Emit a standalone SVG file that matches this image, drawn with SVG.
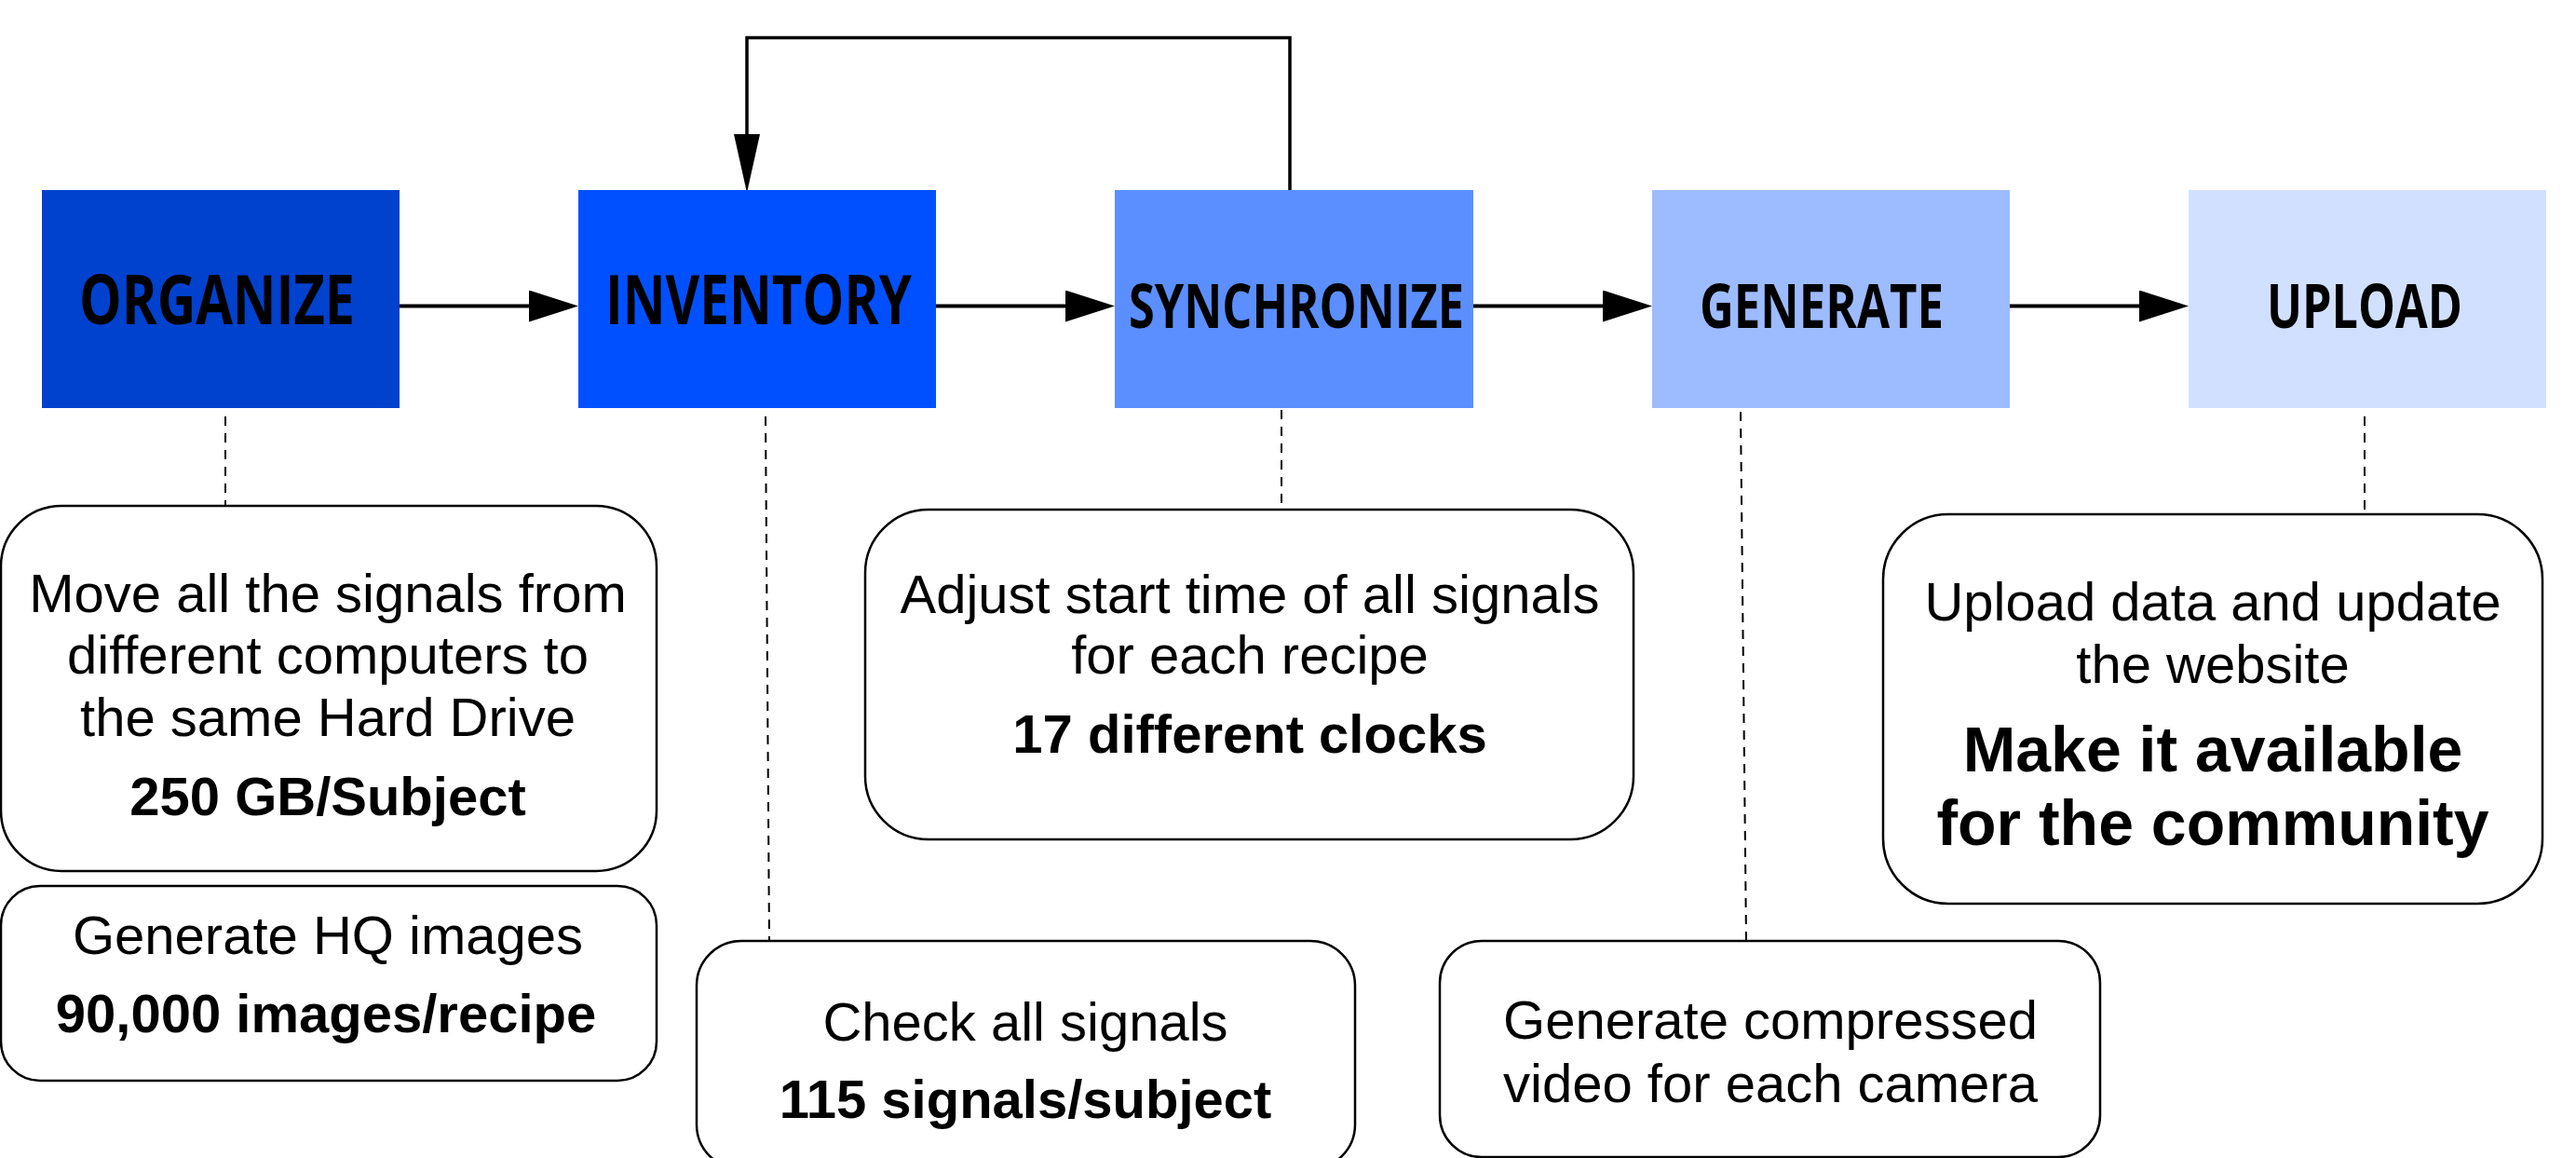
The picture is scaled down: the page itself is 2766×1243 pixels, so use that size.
<svg xmlns="http://www.w3.org/2000/svg" width="2766" height="1243" viewBox="0 0 2766 1243">
<style>
.step-label{font-family:"Open Sans","DejaVu Sans",sans-serif;font-weight:bold;fill:#000;}
.callout{fill:#fff;stroke:#000;stroke-width:2.5;}
.txt{font-family:"Liberation Sans",Arial,sans-serif;font-size:58px;fill:#000;text-anchor:middle;}
.bold{font-weight:bold;}
.flow{stroke:#000;stroke-width:4;fill:none;}
.dash{stroke:#000;stroke-width:2;stroke-dasharray:10 8;fill:none;}
</style>
<defs>
<marker id="ah" markerUnits="userSpaceOnUse" markerWidth="54" markerHeight="34" refX="10" refY="17" orient="auto">
<path d="M0,0 L53,17 L0,34 Z" fill="#000"/>
</marker>
<marker id="ah2" markerUnits="userSpaceOnUse" markerWidth="64" markerHeight="28" refX="10" refY="14" orient="auto">
<path d="M0,0 L63,14 L0,28 Z" fill="#000"/>
</marker>
</defs>
<rect width="2766" height="1243" fill="#fff"/>

<g id="connectors">
<line class="flow" x1="429" y1="328.5" x2="578" y2="328.5" marker-end="url(#ah)"/>
<line class="flow" x1="1005" y1="328.5" x2="1154" y2="328.5" marker-end="url(#ah)"/>
<line class="flow" x1="1582" y1="328.5" x2="1731" y2="328.5" marker-end="url(#ah)"/>
<line class="flow" x1="2158" y1="328.5" x2="2307" y2="328.5" marker-end="url(#ah)"/>
<path class="flow" style="stroke-width:3.5" d="M1385,206 L1385,40.5 L802,40.5 L802,154" marker-end="url(#ah2)"/>
<line class="dash" x1="242" y1="447" x2="242" y2="543"/>
<line class="dash" x1="822" y1="447" x2="826" y2="1010"/>
<line class="dash" x1="1376" y1="440" x2="1376" y2="547"/>
<line class="dash" x1="1869" y1="442" x2="1875" y2="1010"/>
<line class="dash" x1="2539" y1="447" x2="2539" y2="552"/>
</g>

<g id="organize">
<rect x="45" y="204" width="384" height="234" fill="#0041CD"/>
<text class="step-label" x="85" y="348" font-size="74" textLength="296" lengthAdjust="spacingAndGlyphs">ORGANIZE</text>
</g>
<g id="inventory">
<rect x="621" y="204" width="384" height="234" fill="#0050FF"/>
<text class="step-label" x="650" y="348" font-size="74" textLength="329" lengthAdjust="spacingAndGlyphs">INVENTORY</text>
</g>
<g id="synchronize">
<rect x="1197" y="204" width="385" height="234" fill="#5B8FFF"/>
<text class="step-label" x="1212" y="352" font-size="67" textLength="360" lengthAdjust="spacingAndGlyphs">SYNCHRONIZE</text>
</g>
<g id="generate">
<rect x="1774" y="204" width="384" height="234" fill="#9DBBFF"/>
<text class="step-label" x="1825" y="352" font-size="67" textLength="262" lengthAdjust="spacingAndGlyphs">GENERATE</text>
</g>
<g id="upload">
<rect x="2350" y="204" width="384" height="234" fill="#D1E0FF"/>
<text class="step-label" x="2434" y="352" font-size="67" textLength="210" lengthAdjust="spacingAndGlyphs">UPLOAD</text>
</g>

<g id="note-organize">
<rect class="callout" x="1" y="543" width="704" height="392" rx="65" ry="65"/>
<text class="txt" x="352" y="657">Move all the signals from</text>
<text class="txt" x="352" y="723">different computers to</text>
<text class="txt" x="352" y="790">the same Hard Drive</text>
<text class="txt bold" x="352" y="875">250 GB/Subject</text>
</g>
<g id="note-images">
<rect class="callout" x="1" y="951" width="704" height="209" rx="42" ry="42"/>
<text class="txt" x="352" y="1024">Generate HQ images</text>
<text class="txt bold" x="350" y="1108">90,000 images/recipe</text>
</g>
<g id="note-inventory">
<rect class="callout" x="748" y="1010" width="707" height="245" rx="48" ry="48"/>
<text class="txt" x="1101" y="1117">Check all signals</text>
<text class="txt bold" x="1101" y="1200">115 signals/subject</text>
</g>
<g id="note-synchronize">
<rect class="callout" x="929" y="547" width="825" height="354" rx="68" ry="68"/>
<text class="txt" x="1342" y="658">Adjust start time of all signals</text>
<text class="txt" x="1342" y="723">for each recipe</text>
<text class="txt bold" x="1342" y="808">17 different clocks</text>
</g>
<g id="note-generate">
<rect class="callout" x="1546" y="1010" width="709" height="232" rx="45" ry="45"/>
<text class="txt" x="1901" y="1115">Generate compressed</text>
<text class="txt" x="1901" y="1183">video for each camera</text>
</g>
<g id="note-upload">
<rect class="callout" x="2022" y="552" width="708" height="418" rx="70" ry="70"/>
<text class="txt" x="2376" y="666">Upload data and update</text>
<text class="txt" x="2376" y="733">the website</text>
<text class="txt bold" x="2376" y="828" style="font-size:68px">Make it available</text>
<text class="txt bold" x="2376" y="907" style="font-size:68px">for the community</text>
</g>
</svg>
